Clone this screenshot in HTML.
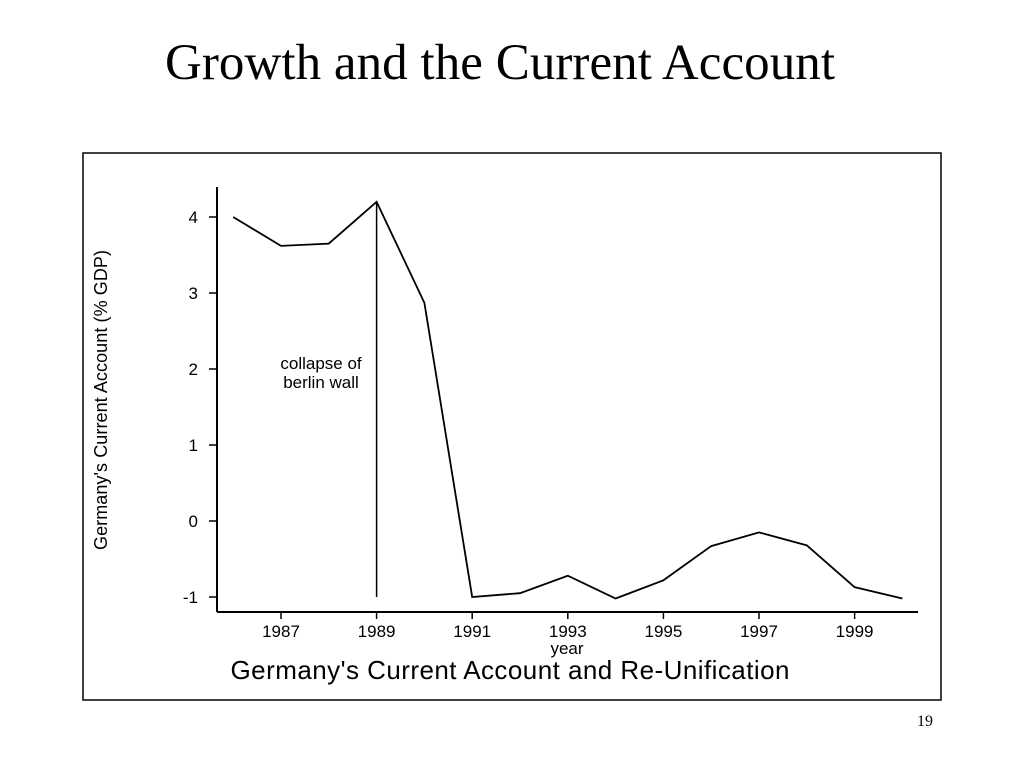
<!DOCTYPE html>
<html><head><meta charset="utf-8"><style>
body{margin:0;background:#fff;width:1024px;height:768px;overflow:hidden}
svg{display:block}
</style></head><body>
<svg width="1024" height="768">
<text x="500" y="79" text-anchor="middle" font-family="Liberation Serif, serif" font-size="51" textLength="670">Growth and the Current Account</text>
<rect x="83" y="153" width="858" height="547" fill="none" stroke="#000" stroke-width="1.5"/>
<g id="chart"></g>
<text x="510" y="679" text-anchor="middle" font-family="Liberation Sans, sans-serif" font-size="26" textLength="559">Germany's Current Account and Re-Unification</text>
<text x="567" y="654" text-anchor="middle" font-family="Liberation Sans, sans-serif" font-size="17">year</text>
<text transform="translate(107,400) rotate(-90)" text-anchor="middle" font-family="Liberation Sans, sans-serif" font-size="18" textLength="300">Germany's Current Account (% GDP)</text>
<text x="321" y="369" text-anchor="middle" font-family="Liberation Sans, sans-serif" font-size="17">collapse of</text>
<text x="321" y="388" text-anchor="middle" font-family="Liberation Sans, sans-serif" font-size="17">berlin wall</text>
<text x="933" y="726" text-anchor="end" font-family="Liberation Serif, serif" font-size="16">19</text>
</svg>
<script>
const years=[1986,1987,1988,1989,1990,1991,1992,1993,1994,1995,1996,1997,1998,1999,2000];
const values=[4.0,3.62,3.65,4.2,2.87,-1.0,-0.95,-0.72,-1.02,-0.78,-0.33,-0.15,-0.32,-0.87,-1.02];
const yTicks=[4,3,2,1,0,-1];
const xTicks=[1987,1989,1991,1993,1995,1997,1999];
const eventYear=1989;
const NS="http://www.w3.org/2000/svg";
const g=document.getElementById('chart');
const xs=y=>281+(y-1987)*47.8;
const ys=v=>521-v*76;
function mk(t,a){const e=document.createElementNS(NS,t);for(const k in a)e.setAttribute(k,a[k]);g.appendChild(e);return e;}
let e=mk('line',{x1:217,y1:187,x2:217,y2:612,stroke:'#000','stroke-width':2});


e=mk('line',{x1:217,y1:612,x2:918,y2:612,stroke:'#000','stroke-width':2});


yTicks.forEach(v=>{
 let t=mk('line',{x1:209,y1:ys(v),x2:217,y2:ys(v),stroke:'#000','stroke-width':1.5});
 
 
 let l=mk('text',{x:198,y:ys(v)+6,'text-anchor':'end','font-family':'Liberation Sans, sans-serif','font-size':17});
 l.textContent=v;
 
 
});
xTicks.forEach(v=>{
 let t=mk('line',{x1:xs(v),y1:612,x2:xs(v),y2:619,stroke:'#000','stroke-width':1.5});
 
 
 let l=mk('text',{x:xs(v),y:637,'text-anchor':'middle','font-family':'Liberation Sans, sans-serif','font-size':17});
 l.textContent=v;
 
 
});
e=mk('line',{x1:xs(eventYear),y1:ys(Math.max(...values)),x2:xs(eventYear),y2:ys(-1),stroke:'#000','stroke-width':1.5});


e=mk('polyline',{points:years.map((y,i)=>xs(y)+','+ys(values[i])).join(' '),fill:'none',stroke:'#000','stroke-width':1.8});


</script>
</body></html>
